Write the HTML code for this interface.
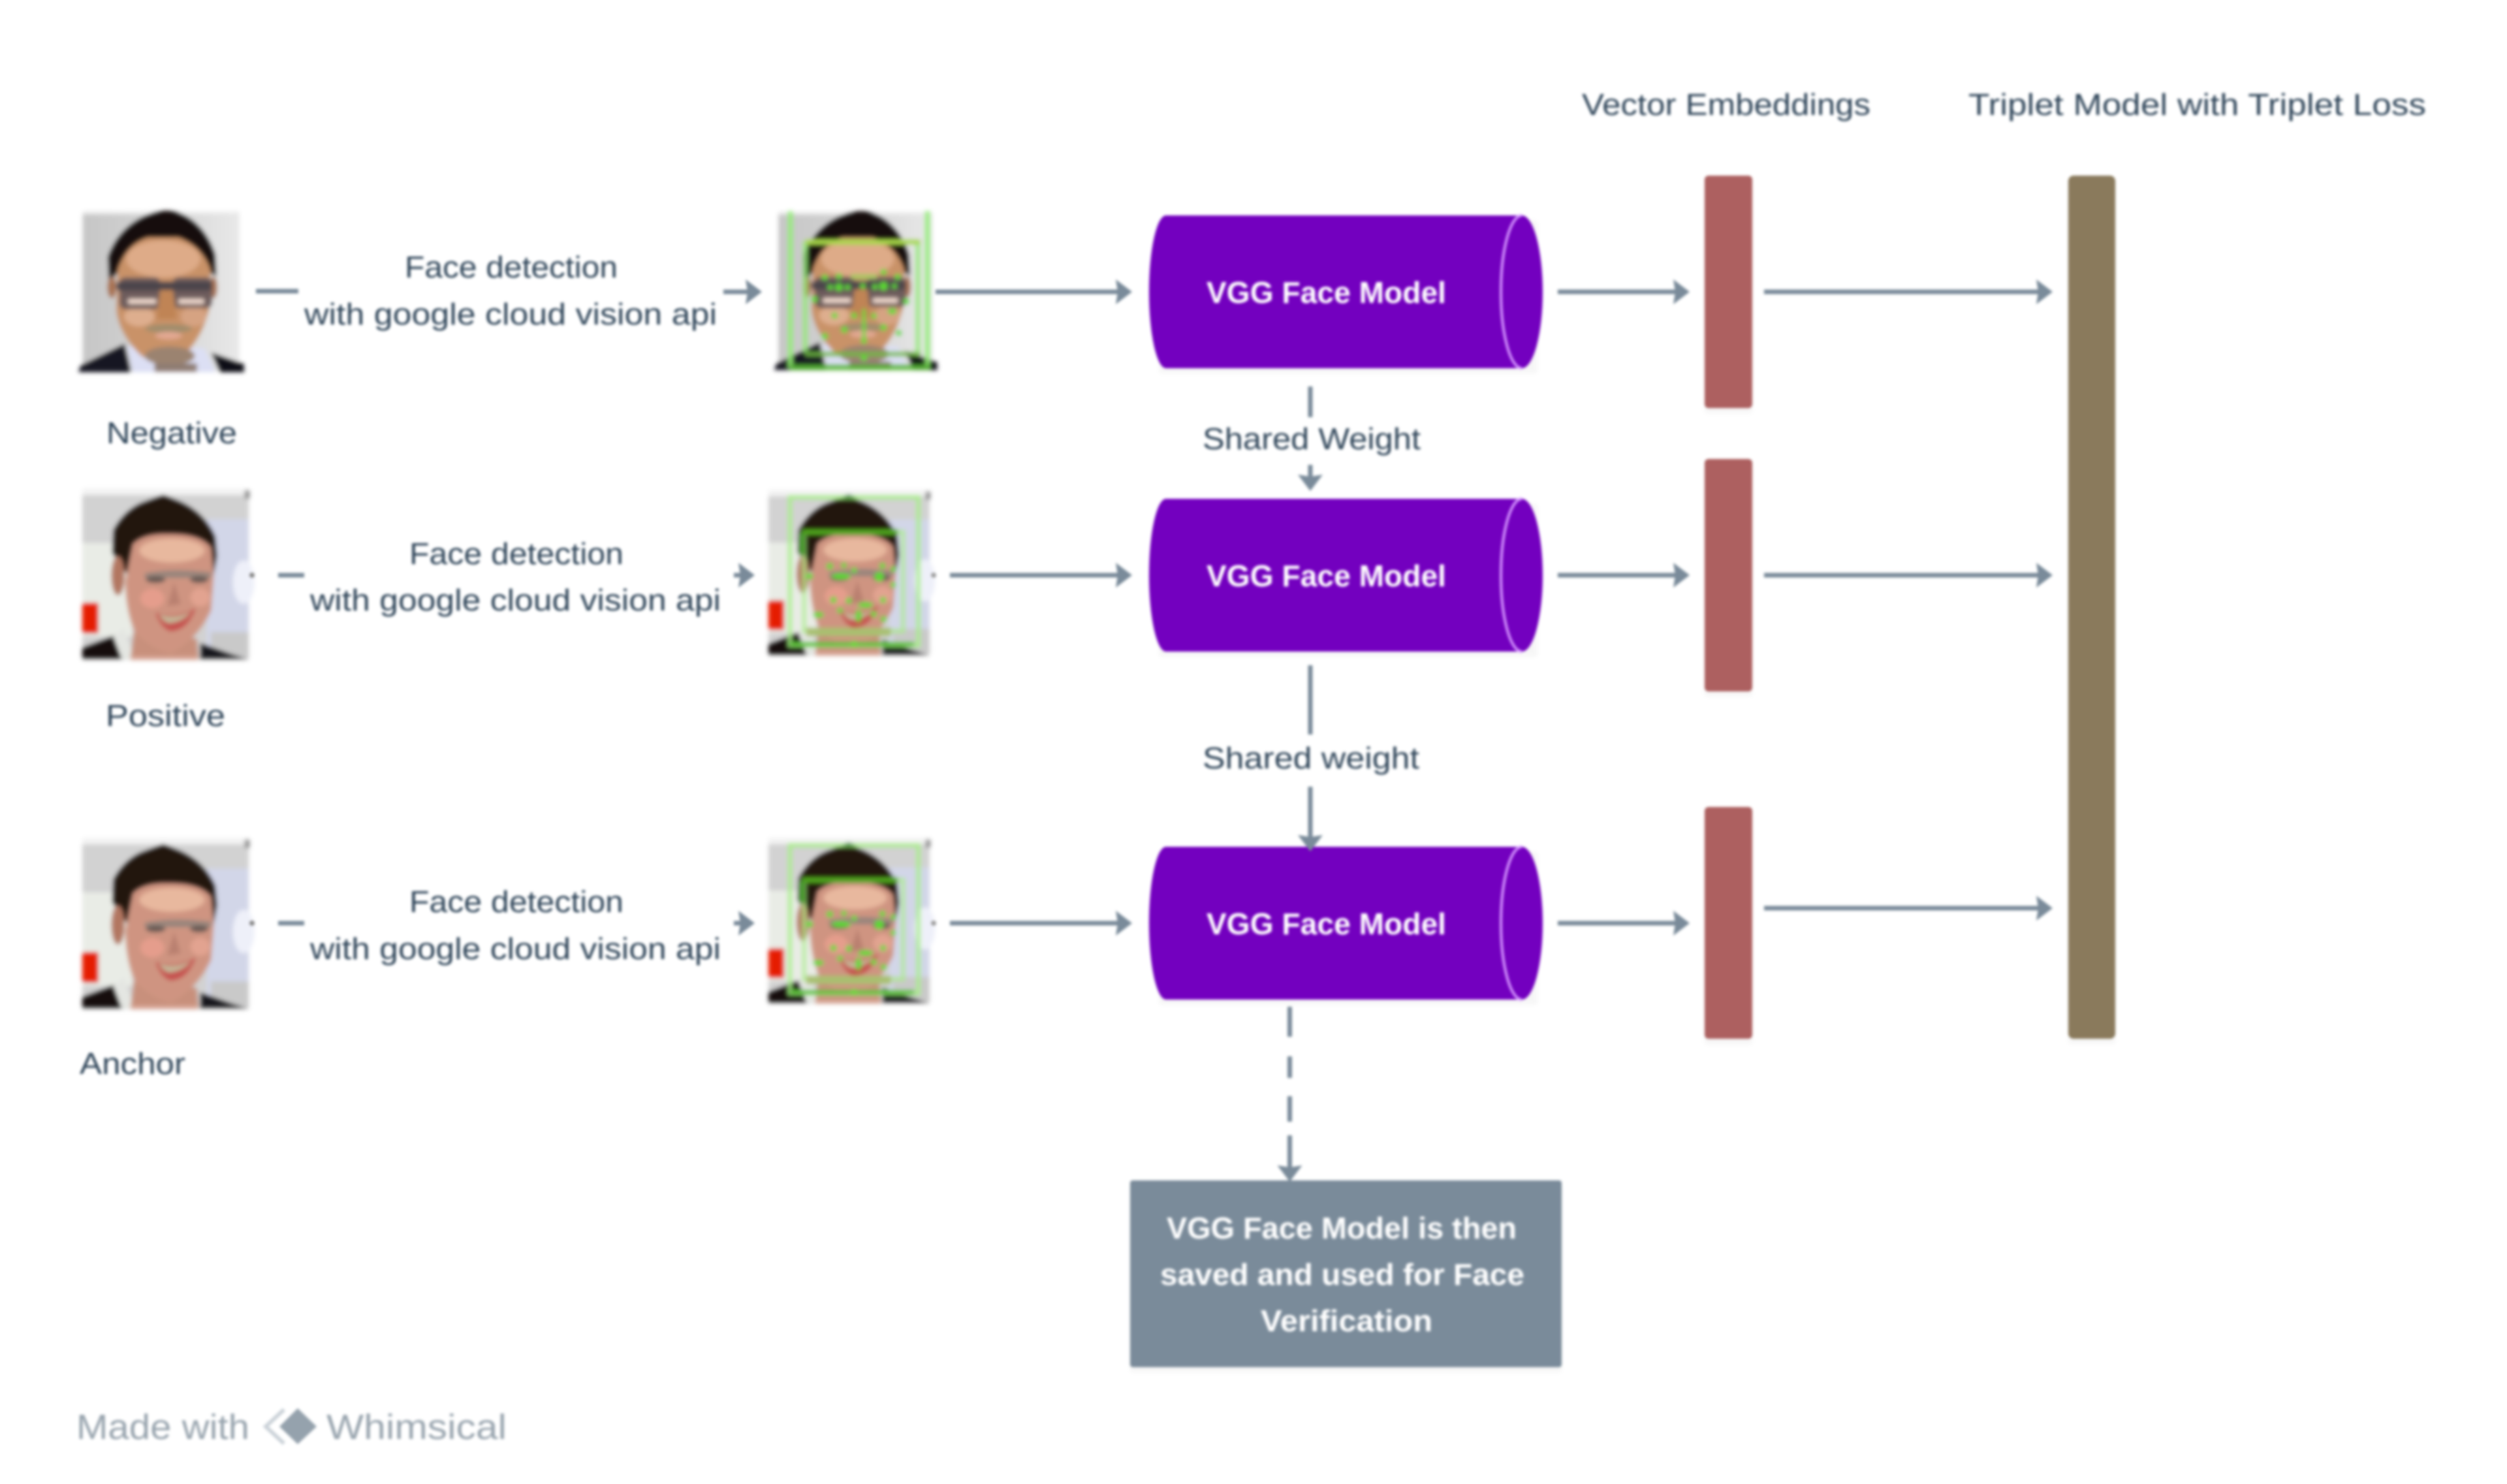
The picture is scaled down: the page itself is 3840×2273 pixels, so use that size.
<!DOCTYPE html>
<html><head><meta charset="utf-8"><style>
html,body{margin:0;padding:0;background:#fff;width:3840px;height:2273px;overflow:hidden}
svg{display:block;filter:blur(2px)}
text{font-family:"Liberation Sans",sans-serif;font-size:46px;fill:#30465a}
.w{fill:#fff;font-weight:bold}
.g{fill:#98a4ae;font-size:54px}
</style></head><body>
<svg width="3840" height="2273" viewBox="0 0 3840 2273" xmlns="http://www.w3.org/2000/svg">
<defs>
<linearGradient id="bgn" x1="0" y1="0" x2="1" y2="0"><stop offset="0" stop-color="#c6c6c6"/><stop offset=".5" stop-color="#d4d4d4"/><stop offset="1" stop-color="#e8e8e8"/></linearGradient>
<filter id="fb" x="-5%" y="-5%" width="110%" height="110%"><feGaussianBlur stdDeviation="3"/></filter>
<polygon id="ah" points="0,0 -25,-19 -22,0 -25,19" fill="#7a8b9a"/>

<g id="neg">
<rect x="80" y="70" width="720" height="735" fill="url(#bgn)"/>
<rect x="80" y="70" width="720" height="14" fill="#f0f0f0"/>
<path d="M200 400 L195 280 Q250 130 400 78 Q450 62 510 72 Q640 120 690 270 L695 370 L640 340 L250 340Z" fill="#131110"/>
<ellipse cx="214" cy="420" rx="20" ry="50" fill="#a8714f"/>
<ellipse cx="682" cy="420" rx="16" ry="50" fill="#a8714f"/>
<path d="M285 690 L310 810 L690 810 L640 700Z" fill="#dcdff4"/>
<path d="M240 340 Q280 220 380 190 L520 190 Q630 230 668 340 L665 500 Q640 640 540 740 Q440 790 350 735 Q250 640 235 530Z" fill="#c99268"/>
<ellipse cx="450" cy="290" rx="170" ry="85" fill="#deab88"/>
<ellipse cx="340" cy="555" rx="70" ry="45" fill="#deae8e"/>
<ellipse cx="590" cy="555" rx="60" ry="45" fill="#d6a382"/>
<rect x="250" y="375" width="185" height="145" rx="25" fill="#6d5c5c"/>
<rect x="495" y="375" width="180" height="140" rx="25" fill="#6d5c5c"/>
<rect x="235" y="395" width="440" height="40" rx="14" fill="#4b454b"/>
<rect x="288" y="473" width="130" height="24" rx="6" fill="#efd8cc"/>
<rect x="520" y="473" width="118" height="24" rx="6" fill="#efd8cc"/>
<path d="M435 432 L495 432 L512 565 L420 565Z" fill="#c08454"/>
<ellipse cx="475" cy="610" rx="108" ry="20" fill="#a08d6c"/>
<ellipse cx="475" cy="642" rx="62" ry="18" fill="#e3a892"/>
<ellipse cx="480" cy="735" rx="115" ry="42" fill="#9b8370"/>
<rect x="410" y="770" width="195" height="38" fill="#8e7b72"/>
<path d="M60 810 L72 778 L272 680 L302 810Z" fill="#181822"/>
<path d="M670 720 L820 772 L822 810 L710 810Z" fill="#0e0e14"/>
</g>

<g id="mark" transform="translate(-16,-13) scale(.3333)">
<rect x="48" y="40" width="765" height="790" fill="#f3f3f3"/>
<rect x="48" y="70" width="765" height="755" fill="#d2d2d2"/>
<rect x="48" y="290" width="230" height="430" fill="#e9ece6"/>
<rect x="620" y="180" width="193" height="600" fill="#d2d6e8"/>
<rect x="640" y="700" width="173" height="110" fill="#c9c9c9"/>
<ellipse cx="790" cy="470" rx="50" ry="100" fill="#eef0f9"/>
<rect x="795" y="48" width="22" height="38" fill="#888"/>
<rect x="48" y="565" width="74" height="140" rx="6" fill="#e51a06"/>
<path d="M48 825 L48 770 L195 715 L250 825Z" fill="#12100f"/>
<path d="M590 750 L730 800 L810 825 L590 825Z" fill="#14131a"/>
<path d="M190 720 L240 680 L290 825 L230 825Z" fill="#e4e6e2"/>
<path d="M185 335 L190 230 Q240 140 320 105 L420 68 L500 100 Q610 150 660 260 L668 350 L650 445 L265 450 L210 370Z" fill="#241410"/>
<ellipse cx="212" cy="440" rx="30" ry="90" fill="#b27660"/>
<path d="M270 825 L285 700 L575 730 L582 825Z" fill="#c8907c"/>
<path d="M280 295 Q330 245 440 248 Q590 245 640 310 L652 440 L640 600 Q580 730 460 795 Q380 790 290 700 Q250 610 245 470 Z" fill="#cf9481"/>
<ellipse cx="460" cy="325" rx="150" ry="55" fill="#e8b89e"/>
<path d="M335 430 Q450 405 640 425 L640 450 L335 450Z" fill="#98857c"/>
<ellipse cx="385" cy="458" rx="45" ry="15" fill="#675852"/>
<ellipse cx="585" cy="458" rx="42" ry="15" fill="#675852"/>
<ellipse cx="370" cy="545" rx="55" ry="45" fill="#e59d8c"/>
<ellipse cx="590" cy="540" rx="45" ry="42" fill="#e2a390"/>
<path d="M470 470 L500 570 L440 580Z" fill="#b98070"/>
<path d="M385 610 Q470 640 570 590 Q530 695 450 695 Q405 675 385 610Z" fill="#c64f4e"/>
<path d="M400 618 Q470 642 550 605 Q510 655 445 660 Q415 650 400 618Z" fill="#c4b596"/>
<rect x="270" y="810" width="310" height="18" fill="#d9a797"/>
</g>

<g id="marknet">
<g transform="translate(1177,750) scale(.968)"><use href="#mark"/></g>
<g transform="translate(1160,730) scale(.3333)">
<rect x="150" y="95" width="590" height="680" fill="none" stroke="#a6ee84" stroke-width="20" opacity=".85"/>
<rect x="215" y="255" width="455" height="455" fill="none" stroke="#a6ee84" stroke-width="20" opacity=".7"/>
<rect x="205" y="242" width="440" height="26" fill="#4fa51a"/>
<rect x="192" y="260" width="26" height="100" fill="#3f9a20"/>
<rect x="225" y="695" width="390" height="38" fill="#a8c070"/>
<rect x="150" y="760" width="570" height="20" fill="#57c030"/>
<path d="M385 100 L420 80 L455 100Z" fill="#228a0c"/>
<g fill="#5ad92e">
<circle cx="333" cy="412" r="15"/><circle cx="398" cy="408" r="13"/><circle cx="445" cy="430" r="13"/><circle cx="575" cy="410" r="14"/><circle cx="625" cy="425" r="13"/>
<circle cx="240" cy="458" r="15"/><ellipse cx="385" cy="458" rx="45" ry="14"/><circle cx="560" cy="460" r="22"/><circle cx="625" cy="497" r="13"/>
<circle cx="350" cy="567" r="15"/><circle cx="420" cy="570" r="14"/><circle cx="578" cy="567" r="14"/>
<ellipse cx="280" cy="635" rx="25" ry="13"/><circle cx="380" cy="615" r="13"/><ellipse cx="497" cy="590" rx="35" ry="13"/><ellipse cx="465" cy="640" rx="13" ry="30"/><circle cx="535" cy="632" r="14"/><circle cx="580" cy="655" r="14"/><circle cx="445" cy="770" r="15"/>
</g>
</g>
</g>

<g id="vgg">
<path d="M1786 -117 H2331 A32 117 0 0 1 2331 117 H1786 A26 117 0 0 1 1786 -117Z" fill="#7300bf"/>
<path d="M2331 -117 A32 117 0 0 0 2331 117" fill="none" stroke="#d596ff" stroke-width="4"/>
<text class="w" x="1848" y="17" textLength="367" lengthAdjust="spacingAndGlyphs">VGG Face Model</text>
</g>
</defs>

<rect width="3840" height="2273" fill="#fff"/>

<!-- faces -->
<g filter="url(#fb)">
<g transform="translate(100,300) scale(.3333)"><use href="#neg"/></g>
<g transform="translate(1166,301) scale(.3283)"><use href="#neg"/></g>
<g transform="translate(1170,310) scale(.3333)">
<path d="M122 40V760M752 40V760" stroke="#90ec70" stroke-width="24" fill="none" opacity=".9"/>
<path d="M190 180V690M708 180V690" stroke="#90e870" stroke-width="24" fill="none" opacity=".8"/>
<rect x="190" y="170" width="530" height="24" fill="#a8d848"/>
<rect x="190" y="686" width="530" height="22" fill="#6fb840" opacity=".85"/>
<rect x="122" y="745" width="640" height="26" fill="#52b430" opacity=".9"/>
<rect x="400" y="330" width="120" height="22" fill="#a8c860"/>
<rect x="453" y="490" width="14" height="160" fill="#5ad92e"/>
<g fill="#5ad92e">
<circle cx="280" cy="345" r="14"/><circle cx="345" cy="340" r="14"/><circle cx="550" cy="320" r="14"/><circle cx="615" cy="342" r="14"/>
<circle cx="345" cy="390" r="18"/><circle cx="305" cy="390" r="13"/><circle cx="385" cy="390" r="13"/><circle cx="455" cy="385" r="13"/><circle cx="510" cy="388" r="13"/><circle cx="550" cy="385" r="20"/><circle cx="600" cy="385" r="12"/>
<circle cx="232" cy="445" r="15"/><circle cx="655" cy="455" r="15"/><circle cx="325" cy="520" r="14"/><circle cx="415" cy="520" r="14"/><circle cx="505" cy="522" r="13"/><ellipse cx="590" cy="500" rx="20" ry="14"/>
<circle cx="370" cy="585" r="15"/><circle cx="550" cy="575" r="15"/><circle cx="620" cy="600" r="14"/><circle cx="280" cy="615" r="15"/><circle cx="460" cy="635" r="13"/><circle cx="460" cy="715" r="14"/>
</g>
</g>
<use href="#mark" x="126" y="748"/>
<use href="#marknet"/>
<use href="#mark" x="126" y="1283"/>
<use href="#marknet" y="533"/>
</g>

<!-- soft shadows -->
<g fill="#000" opacity=".03" filter="url(#fb)">
<rect x="2611" y="277" width="73" height="356"/><rect x="2611" y="711" width="73" height="356"/><rect x="2611" y="1244" width="73" height="356"/>
<rect x="3168" y="277" width="72" height="1322"/><rect x="1731" y="1816" width="661" height="286"/>
<rect x="1775" y="338" width="580" height="234"/><rect x="1775" y="772" width="580" height="234"/><rect x="1775" y="1305" width="580" height="234"/>
</g>

<!-- nodes -->
<use href="#vgg" y="447"/>
<use href="#vgg" y="881"/>
<use href="#vgg" y="1414"/>

<g fill="#ad6060">
<rect x="2611" y="269" width="73" height="356" rx="6"/>
<rect x="2611" y="703" width="73" height="356" rx="6"/>
<rect x="2611" y="1236" width="73" height="355" rx="6"/>
</g>
<rect x="3168" y="269" width="72" height="1322" rx="8" fill="#8a7a5c"/>
<rect x="1731" y="1808" width="661" height="286" rx="4" fill="#7a8b9a"/>

<!-- connectors -->
<g stroke="#7a8b9a" stroke-width="7" fill="none">
<path d="M392 446H457M1108 447H1145"/>
<path d="M1433 447H1715M2386 447H2570M2702 447H3125"/>
<path d="M426 881H466M1124 881H1145"/>
<path d="M1455 881H1715M2386 881H2570M2702 881H3125"/>
<path d="M426 1414H466M1124 1414H1145"/>
<path d="M1455 1414H1715M2386 1414H2570M2702 1391H3125"/>
<path d="M2007 592V639M2007 712V735M2007 1019V1125M2007 1205V1285"/>
<path d="M1975.5 1542V1588M1975.5 1618V1651M1975.5 1679V1718M1975.5 1739V1790"/>
</g>
<use href="#ah" transform="translate(1167,447)"/>
<use href="#ah" transform="translate(1734,447)"/>
<use href="#ah" transform="translate(2588,447)"/>
<use href="#ah" transform="translate(3144,447)"/>
<use href="#ah" transform="translate(1156,881)"/>
<use href="#ah" transform="translate(1734,881)"/>
<use href="#ah" transform="translate(2588,881)"/>
<use href="#ah" transform="translate(3144,881)"/>
<use href="#ah" transform="translate(1156,1414)"/>
<use href="#ah" transform="translate(1734,1414)"/>
<use href="#ah" transform="translate(2588,1414)"/>
<use href="#ah" transform="translate(3144,1391)"/>
<use href="#ah" transform="translate(2007,752) rotate(90)"/>
<use href="#ah" transform="translate(2007,1304) rotate(90)"/>
<use href="#ah" transform="translate(1975.5,1810) rotate(90)"/>

<!-- labels -->
<text x="2423" y="176" textLength="442" lengthAdjust="spacingAndGlyphs">Vector Embeddings</text>
<text x="3015" y="176" textLength="701" lengthAdjust="spacingAndGlyphs">Triplet Model with Triplet Loss</text>

<text x="620" y="425" textLength="326" lengthAdjust="spacingAndGlyphs">Face detection</text>
<text x="466" y="497" textLength="632" lengthAdjust="spacingAndGlyphs">with google cloud vision api</text>
<text x="163" y="679" textLength="200" lengthAdjust="spacingAndGlyphs">Negative</text>

<text x="627" y="864" textLength="328" lengthAdjust="spacingAndGlyphs">Face detection</text>
<text x="475" y="935" textLength="629" lengthAdjust="spacingAndGlyphs">with google cloud vision api</text>
<text x="162" y="1112" textLength="183" lengthAdjust="spacingAndGlyphs">Positive</text>

<text x="627" y="1397" textLength="328" lengthAdjust="spacingAndGlyphs">Face detection</text>
<text x="475" y="1469" textLength="629" lengthAdjust="spacingAndGlyphs">with google cloud vision api</text>
<text x="122" y="1645" textLength="162" lengthAdjust="spacingAndGlyphs">Anchor</text>

<text x="1842" y="688" textLength="334" lengthAdjust="spacingAndGlyphs">Shared Weight</text>
<text x="1842" y="1177" textLength="332" lengthAdjust="spacingAndGlyphs">Shared weight</text>

<text class="w" x="1787" y="1897" textLength="536" lengthAdjust="spacingAndGlyphs">VGG Face Model is then</text>
<text class="w" x="1777" y="1968" textLength="558" lengthAdjust="spacingAndGlyphs">saved and used for Face</text>
<text class="w" x="1931" y="2039" textLength="263" lengthAdjust="spacingAndGlyphs">Verification</text>

<text class="g" x="117" y="2204" textLength="265" lengthAdjust="spacingAndGlyphs">Made with</text>
<text class="g" x="500" y="2204" textLength="276" lengthAdjust="spacingAndGlyphs">Whimsical</text>
<polygon points="456,2157 485,2185 456,2212 428,2185" fill="#95a2ad"/>
<path d="M435 2159 L407 2185 L435 2211" fill="none" stroke="#ccd3d9" stroke-width="6"/>

<!-- tiny image-edge marks -->
<circle cx="386" cy="881" r="4" fill="#8a8a8a"/>
<circle cx="386" cy="1414" r="4" fill="#8a8a8a"/>
<circle cx="1430" cy="881" r="4" fill="#a0a0a0"/>
<circle cx="1430" cy="1414" r="4" fill="#a0a0a0"/>
</svg>
</body></html>
